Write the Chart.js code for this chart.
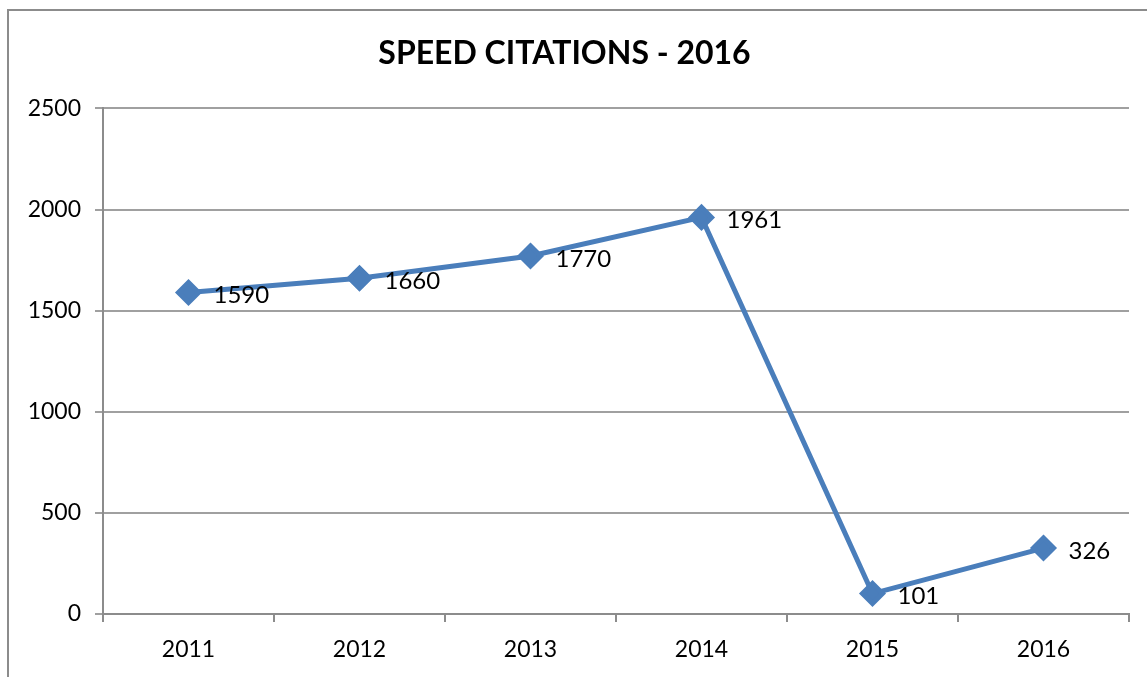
<!DOCTYPE html>
<html>
<head>
<meta charset="utf-8">
<script src="https://cdn.jsdelivr.net/npm/chart.js@4"></script>
<style>
  html, body { margin: 0; padding: 0; background: #fff; overflow: hidden; }
  #frame { position: absolute; left: 7px; top: 9px; width: 1200px; height: 700px; border: 2px solid #8c8c8c; box-sizing: border-box; }
  #wrap { position: absolute; left: 0; top: 0; width: 1147px; height: 677px; }
</style>
</head>
<body>
<div id="frame"></div>
<div id="wrap"><canvas id="chartCanvas"></canvas></div>
<script>
const years = ['2011', '2012', '2013', '2014', '2015', '2016'];
const citations = [1590, 1660, 1770, 1961, 101, 326];
const yTicks = [0, 500, 1000, 1500, 2000, 2500];

const fontFamily = 'Lato, "Open Sans", sans-serif';

// value labels to the right of each point
const valueLabels = {
  id: 'valueLabels',
  afterDatasetsDraw(chart) {
    const ctx = chart.ctx;
    const meta = chart.getDatasetMeta(0);
    ctx.save();
    ctx.font = '24px ' + fontFamily;
    ctx.fillStyle = '#000';
    ctx.textAlign = 'left';
    ctx.textBaseline = 'middle';
    meta.data.forEach((pt, i) => {
      ctx.fillText(String(citations[i]), pt.x + 25, pt.y + 3);
    });
    ctx.restore();
  }
};

const ctx = document.getElementById('chartCanvas').getContext('2d');

const chart = new Chart(ctx, {
  type: 'line',
  data: {
    labels: years,
    datasets: [{
      label: 'Speed Citations',
      data: citations,
      borderColor: '#4A7EBB',
      backgroundColor: '#4A7EBB',
      borderWidth: 5,
      pointStyle: 'rectRot',
      pointRadius: 10,
      pointHoverRadius: 10,
      tension: 0
    }]
  },
  options: {
    responsive: true,
    maintainAspectRatio: false,
    animation: false,
    layout: { padding: { left: 0, right: 18, top: 0, bottom: 0 } },
    plugins: {
      legend: { display: false },
      tooltip: { enabled: false },
      title: {
        display: true,
        text: 'SPEED CITATIONS - 2016',
        color: '#000',
        font: { family: fontFamily, size: 32, weight: 'bold' },
        padding: { top: 34, bottom: 36 }
      }
    },
    scales: {
      x: {
        offset: true,
        grid: {
          offset: true,
          drawOnChartArea: false,
          drawTicks: true,
          tickLength: 8,
          color: '#8c8c8c',
          lineWidth: 2
        },
        border: { color: '#8c8c8c', width: 2 },
        ticks: {
          color: '#000',
          font: { family: fontFamily, size: 23 },
          padding: 14
        },
        afterFit(scale) { scale.height = 63; }
      },
      y: {
        min: 0,
        max: 2500,
        afterBuildTicks(scale) { scale.ticks = yTicks.map(v => ({ value: v })); },
        grid: {
          color: '#a0a0a0',
          lineWidth: 2,
          tickLength: 8
        },
        border: { color: '#8c8c8c', width: 2 },
        ticks: {
          color: '#000',
          font: { family: fontFamily, size: 23 },
          padding: 14,
          callback: v => String(v)
        },
        afterFit(scale) { scale.width = 103; }
      }
    }
  },
  plugins: [valueLabels]
});
</script>
</body>
</html>
